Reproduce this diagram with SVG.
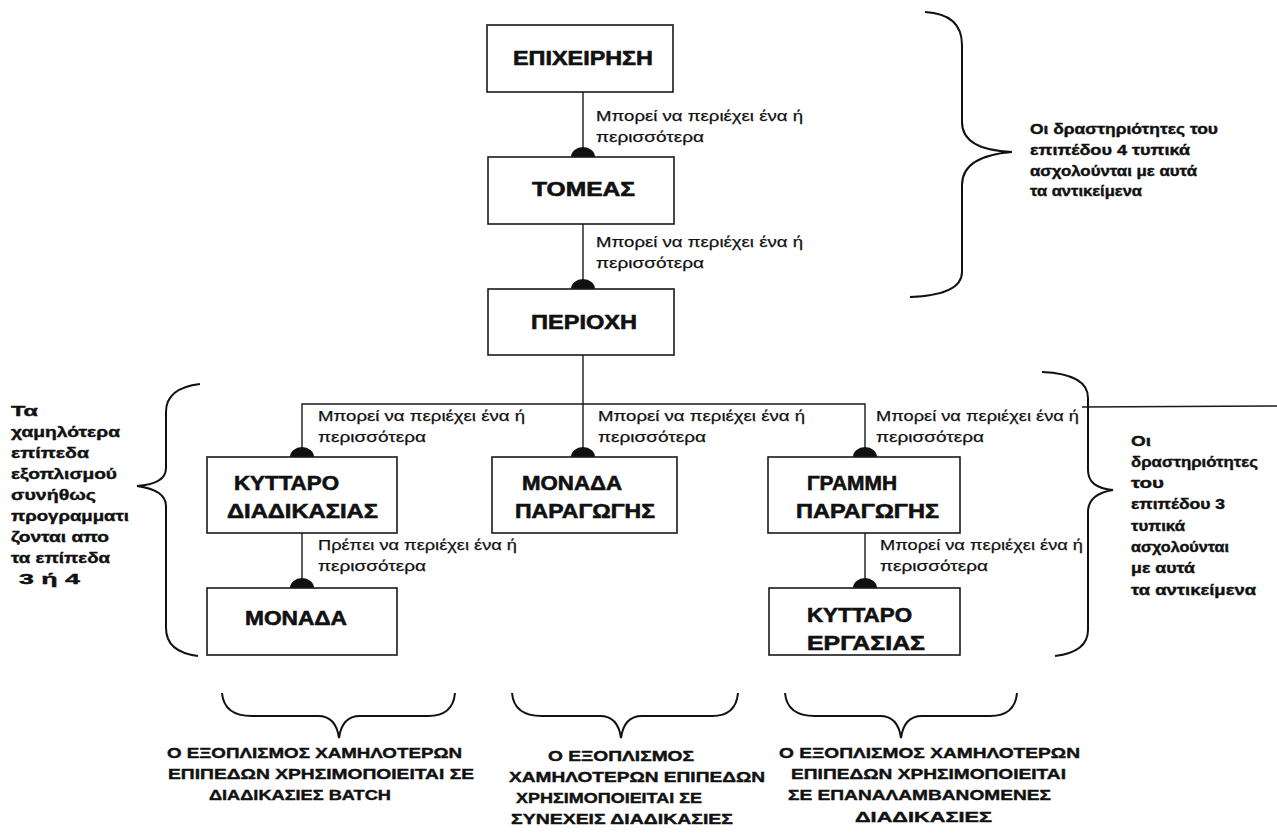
<svg xmlns="http://www.w3.org/2000/svg" width="1277" height="835" viewBox="0 0 1277 835">
<defs>
<style>
.box{fill:#fff;stroke:#1a1a1a;stroke-width:1.6}
.t{font-family:"Liberation Sans",Arial,sans-serif;font-weight:bold;font-size:20px;fill:#111;stroke:#111;stroke-width:0.6}
.lb{font-family:"Liberation Sans",Arial,sans-serif;font-size:15.5px;fill:#111;stroke:#111;stroke-width:0.25}
.side{font-family:"Liberation Sans",Arial,sans-serif;font-weight:bold;font-size:14.5px;fill:#111;stroke:#111;stroke-width:0.4}
.cap{font-family:"Liberation Sans",Arial,sans-serif;font-weight:bold;font-size:14.5px;fill:#111;stroke:#111;stroke-width:0.4}
.ln{fill:none;stroke:#1a1a1a;stroke-width:1.4}
.br{fill:none;stroke:#111;stroke-width:2}
.dot{fill:#111}
</style>
</defs>
<rect width="1277" height="835" fill="#fff"/>

<g id="connectors">
<line class="ln" x1="583" y1="92" x2="583" y2="157"/>
<line class="ln" x1="583" y1="224" x2="583" y2="289"/>
<polyline class="ln" points="583,355 583,404"/>
<polyline class="ln" points="302,457 302,404 865,404 865,457"/>
<line class="ln" x1="583" y1="404" x2="583" y2="457"/>
<line class="ln" x1="302" y1="533" x2="302" y2="588"/>
<line class="ln" x1="865" y1="533" x2="865" y2="588"/>
<line class="ln" x1="1082" y1="407" x2="1277" y2="406"/>
<path class="dot" d="M571 157 A12 10 0 0 1 595 157 Z"/>
<path class="dot" d="M571 289 A12 10 0 0 1 595 289 Z"/>
<path class="dot" d="M290 457 A12 10 0 0 1 314 457 Z"/>
<path class="dot" d="M571 457 A12 10 0 0 1 595 457 Z"/>
<path class="dot" d="M853 457 A12 10 0 0 1 877 457 Z"/>
<path class="dot" d="M290 588 A12 10 0 0 1 314 588 Z"/>
<path class="dot" d="M853 588 A12 10 0 0 1 877 588 Z"/>
<text class="lb" x="596" y="121" textLength="207" lengthAdjust="spacingAndGlyphs">Μπορεί να περιέχει ένα ή</text>
<text class="lb" x="596" y="142" textLength="108" lengthAdjust="spacingAndGlyphs">περισσότερα</text>
<text class="lb" x="596" y="247" textLength="207" lengthAdjust="spacingAndGlyphs">Μπορεί να περιέχει ένα ή</text>
<text class="lb" x="596" y="268" textLength="108" lengthAdjust="spacingAndGlyphs">περισσότερα</text>
<text class="lb" x="318" y="421" textLength="207" lengthAdjust="spacingAndGlyphs">Μπορεί να περιέχει ένα ή</text>
<text class="lb" x="318" y="442" textLength="108" lengthAdjust="spacingAndGlyphs">περισσότερα</text>
<text class="lb" x="598" y="421" textLength="207" lengthAdjust="spacingAndGlyphs">Μπορεί να περιέχει ένα ή</text>
<text class="lb" x="598" y="442" textLength="108" lengthAdjust="spacingAndGlyphs">περισσότερα</text>
<text class="lb" x="876" y="421" textLength="203" lengthAdjust="spacingAndGlyphs">Μπορεί να περιέχει ένα ή</text>
<text class="lb" x="876" y="442" textLength="108" lengthAdjust="spacingAndGlyphs">περισσότερα</text>
<text class="lb" x="318" y="550" textLength="199" lengthAdjust="spacingAndGlyphs">Πρέπει να περιέχει ένα ή</text>
<text class="lb" x="318" y="571" textLength="108" lengthAdjust="spacingAndGlyphs">περισσότερα</text>
<text class="lb" x="880" y="550" textLength="203" lengthAdjust="spacingAndGlyphs">Μπορεί να περιέχει ένα ή</text>
<text class="lb" x="880" y="571" textLength="108" lengthAdjust="spacingAndGlyphs">περισσότερα</text>
</g>

<g id="n-epixeirisi">
<rect class="box" x="487" y="25" width="186" height="67"/>
<text class="t" x="513" y="65" textLength="140" lengthAdjust="spacingAndGlyphs">ΕΠΙΧΕΙΡΗΣΗ</text>
</g>
<g id="n-tomeas">
<rect class="box" x="488" y="157" width="186" height="67"/>
<text class="t" x="532" y="196" textLength="103" lengthAdjust="spacingAndGlyphs">ΤΟΜΕΑΣ</text>
</g>
<g id="n-periochi">
<rect class="box" x="488" y="289" width="186" height="66"/>
<text class="t" x="531" y="329" textLength="106" lengthAdjust="spacingAndGlyphs">ΠΕΡΙΟΧΗ</text>
</g>
<g id="n-kyttaro-diadikasias">
<rect class="box" x="207" y="457" width="190" height="76"/>
<text class="t" x="234" y="490" textLength="105" lengthAdjust="spacingAndGlyphs">ΚΥΤΤΑΡΟ</text>
<text class="t" x="227" y="518" textLength="151" lengthAdjust="spacingAndGlyphs">ΔΙΑΔΙΚΑΣΙΑΣ</text>
</g>
<g id="n-monada-paragogis">
<rect class="box" x="492" y="457" width="185" height="76"/>
<text class="t" x="522" y="490" textLength="100" lengthAdjust="spacingAndGlyphs">ΜΟΝΑΔΑ</text>
<text class="t" x="515" y="518" textLength="140" lengthAdjust="spacingAndGlyphs">ΠΑΡΑΓΩΓΗΣ</text>
</g>
<g id="n-grammi-paragogis">
<rect class="box" x="768" y="457" width="192" height="76"/>
<text class="t" x="807" y="490" textLength="90" lengthAdjust="spacingAndGlyphs">ΓΡΑΜΜΗ</text>
<text class="t" x="796" y="518" textLength="143" lengthAdjust="spacingAndGlyphs">ΠΑΡΑΓΩΓΗΣ</text>
</g>
<g id="n-monada">
<rect class="box" x="207" y="588" width="190" height="67"/>
<text class="t" x="245" y="625" textLength="102" lengthAdjust="spacingAndGlyphs">ΜΟΝΑΔΑ</text>
</g>
<g id="n-kyttaro-ergasias">
<rect class="box" x="769" y="588" width="191" height="67"/>
<text class="t" x="807" y="622" textLength="105" lengthAdjust="spacingAndGlyphs">ΚΥΤΤΑΡΟ</text>
<text class="t" x="807" y="650" textLength="118" lengthAdjust="spacingAndGlyphs">ΕΡΓΑΣΙΑΣ</text>
</g>

<g id="braces">
<path class="br" d="M925 12 Q962 14 962 45 L962 122 Q962 150 1012 152 Q962 156 962 185 L962 272 Q962 295 910 297"/>
<path class="br" d="M200 384 Q166 388 166 412 L166 468 Q166 484 137 486 Q166 490 166 506 L166 628 Q166 652 198 656"/>
<path class="br" d="M1042 372 Q1088 374 1088 398 L1088 470 Q1088 488 1113 490 Q1088 494 1088 512 L1088 630 Q1088 652 1055 656"/>
<path class="br" d="M222 693 Q224 716 252 716 L318 716 Q336 716 339 738 Q342 716 360 716 L428 716 Q453 716 455 693"/>
<path class="br" d="M512 693 Q514 716 542 716 L600 716 Q618 716 621 738 Q624 716 642 716 L712 716 Q736 716 738 693"/>
<path class="br" d="M785 693 Q787 716 815 716 L880 716 Q898 716 901 738 Q904 716 922 716 L990 716 Q1015 716 1017 693"/>
</g>

<g id="notes">
<text class="side" x="1030" y="134" textLength="188" lengthAdjust="spacingAndGlyphs">Οι δραστηριότητες του</text>
<text class="side" x="1030" y="155" textLength="160" lengthAdjust="spacingAndGlyphs">επιπέδου 4 τυπικά</text>
<text class="side" x="1030" y="176" textLength="167" lengthAdjust="spacingAndGlyphs">ασχολούνται με αυτά</text>
<text class="side" x="1030" y="196" textLength="112" lengthAdjust="spacingAndGlyphs">τα αντικείμενα</text>

<text class="side" x="11" y="416" textLength="27" lengthAdjust="spacingAndGlyphs">Τα</text>
<text class="side" x="11" y="437" textLength="109" lengthAdjust="spacingAndGlyphs">χαμηλότερα</text>
<text class="side" x="11" y="458" textLength="78" lengthAdjust="spacingAndGlyphs">επίπεδα</text>
<text class="side" x="11" y="479" textLength="106" lengthAdjust="spacingAndGlyphs">εξοπλισμού</text>
<text class="side" x="11" y="500" textLength="85" lengthAdjust="spacingAndGlyphs">συνήθως</text>
<text class="side" x="11" y="521" textLength="118" lengthAdjust="spacingAndGlyphs">προγραμματι</text>
<text class="side" x="11" y="542" textLength="98" lengthAdjust="spacingAndGlyphs">ζονται απο</text>
<text class="side" x="11" y="563" textLength="99" lengthAdjust="spacingAndGlyphs">τα επίπεδα</text>
<text class="side" x="19" y="584" textLength="61" lengthAdjust="spacingAndGlyphs">3 ή 4</text>

<text class="side" x="1131" y="446" textLength="20" lengthAdjust="spacingAndGlyphs">Οι</text>
<text class="side" x="1131" y="467" textLength="127" lengthAdjust="spacingAndGlyphs">δραστηριότητες</text>
<text class="side" x="1131" y="488" textLength="33" lengthAdjust="spacingAndGlyphs">του</text>
<text class="side" x="1131" y="509" textLength="94" lengthAdjust="spacingAndGlyphs">επιπέδου 3</text>
<text class="side" x="1131" y="531" textLength="54" lengthAdjust="spacingAndGlyphs">τυπικά</text>
<text class="side" x="1131" y="552" textLength="98" lengthAdjust="spacingAndGlyphs">ασχολούνται</text>
<text class="side" x="1131" y="573" textLength="64" lengthAdjust="spacingAndGlyphs">με αυτά</text>
<text class="side" x="1131" y="595" textLength="125" lengthAdjust="spacingAndGlyphs">τα αντικείμενα</text>

<text class="cap" x="167" y="758" textLength="295" lengthAdjust="spacingAndGlyphs">Ο ΕΞΟΠΛΙΣΜΟΣ ΧΑΜΗΛΟΤΕΡΩΝ</text>
<text class="cap" x="168" y="779" textLength="306" lengthAdjust="spacingAndGlyphs">ΕΠΙΠΕΔΩΝ ΧΡΗΣΙΜΟΠΟΙΕΙΤΑΙ ΣΕ</text>
<text class="cap" x="209" y="800" textLength="182" lengthAdjust="spacingAndGlyphs">ΔΙΑΔΙΚΑΣΙΕΣ BATCH</text>

<text class="cap" x="548" y="761" textLength="146" lengthAdjust="spacingAndGlyphs">Ο ΕΞΟΠΛΙΣΜΟΣ</text>
<text class="cap" x="509" y="782" textLength="256" lengthAdjust="spacingAndGlyphs">ΧΑΜΗΛΟΤΕΡΩΝ ΕΠΙΠΕΔΩΝ</text>
<text class="cap" x="516" y="803" textLength="186" lengthAdjust="spacingAndGlyphs">ΧΡΗΣΙΜΟΠΟΙΕΙΤΑΙ ΣΕ</text>
<text class="cap" x="511" y="824" textLength="222" lengthAdjust="spacingAndGlyphs">ΣΥΝΕΧΕΙΣ ΔΙΑΔΙΚΑΣΙΕΣ</text>

<text class="cap" x="779" y="758" textLength="301" lengthAdjust="spacingAndGlyphs">Ο ΕΞΟΠΛΙΣΜΟΣ ΧΑΜΗΛΟΤΕΡΩΝ</text>
<text class="cap" x="791" y="779" textLength="275" lengthAdjust="spacingAndGlyphs">ΕΠΙΠΕΔΩΝ ΧΡΗΣΙΜΟΠΟΙΕΙΤΑΙ</text>
<text class="cap" x="788" y="800" textLength="263" lengthAdjust="spacingAndGlyphs">ΣΕ ΕΠΑΝΑΛΑΜΒΑΝΟΜΕΝΕΣ</text>
<text class="cap" x="855" y="822" textLength="137" lengthAdjust="spacingAndGlyphs">ΔΙΑΔΙΚΑΣΙΕΣ</text>
</g>
</svg>
